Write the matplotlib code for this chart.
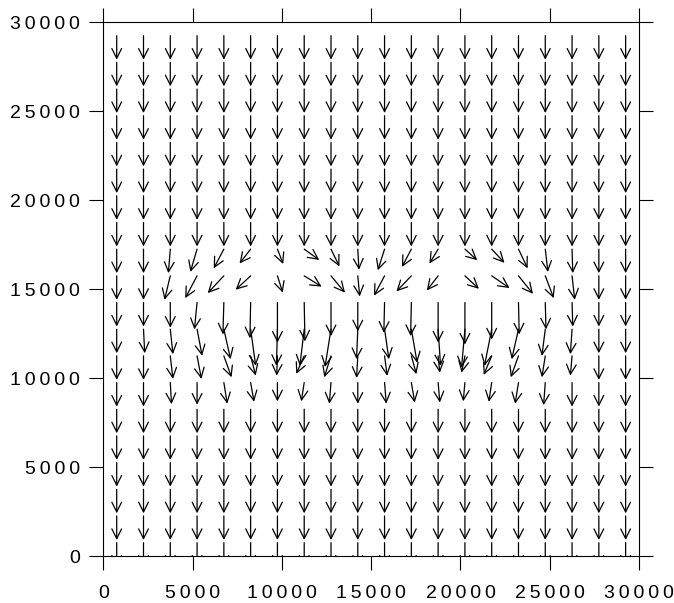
import numpy as np
import matplotlib.pyplot as plt
from matplotlib import font_manager
from matplotlib.patches import FancyArrowPatch

# narrow face if there is one, else Liberation Sans with thin spaces
installed = {f.name for f in font_manager.fontManager.ttflist}
if 'Liberation Sans Narrow' in installed:
    label_font, label_size, digit_gap = 'Liberation Sans Narrow', 16, ' '
else:
    label_font, label_size, digit_gap = 'Liberation Sans', 14, '\u2009'
plt.rcParams['font.family'] = [label_font, 'DejaVu Sans']

# grid nodes (arrow tails), 20 x 20
x_nodes = [750, 2250, 3750, 5250, 6750, 8250, 9750, 11250, 12750, 14250,
           15750, 17250, 18750, 20250, 21750, 23250, 24750, 26250, 27750, 29250]
y_nodes = [29250, 27750, 26250, 24750, 23250, 21750, 20250, 18750, 17250, 15750,
           14250, 12750, 11250, 9750, 8250, 6750, 5250, 3750, 2250, 750]

# undisturbed flow: straight down, unit length
u_free = 0.0
v_free = -1.0

# disturbed rows (key = y of the row)
u_17250 = [0, 0, -0.08, -0.28, -0.42, -0.46, 0.24, 0.62, 0.35, 0.05,
           -0.28, -0.39, -0.36, 0.51, 0.53, 0.38, 0.11, 0.03, 0, 0]
v_17250 = [-1, -1, -1.0, -0.95, -0.80, -0.60, -0.62, -0.45, -0.72, -0.86,
           -0.88, -0.74, -0.60, -0.46, -0.57, -0.80, -0.95, -1.0, -1, -1]

u_15750 = [0, 0, -0.24, -0.49, -0.67, -0.62, 0.22, 0.72, 0.58, 0.08,
           -0.44, -0.62, -0.47, 0.58, 0.74, 0.60, 0.35, 0.11, 0, 0]
v_15750 = [-1, -1, -1.0, -0.93, -0.72, -0.58, -0.70, -0.45, -0.70, -0.86,
           -0.83, -0.65, -0.61, -0.54, -0.51, -0.75, -0.93, -1.0, -1, -1]

u_14250 = [0, 0, 0, -0.11, -0.04, -0.03, 0, 0.03, 0, 0,
           -0.03, -0.03, 0, 0, 0, 0.03, 0.03, 0.03, 0, 0]
v_14250 = [-1, -1, -1.05, -1.12, -1.33, -1.49, -1.67, -1.62, -1.40, -1.20,
           -1.26, -1.40, -1.67, -1.75, -1.54, -1.33, -1.12, -1.0, -1, -1]

u_12750 = [0, 0.05, 0.11, 0.21, 0.28, 0.21, -0.04, -0.18, -0.25, -0.05,
           0.18, 0.24, 0.10, -0.14, -0.30, -0.28, -0.14, -0.07, 0, 0]
v_12750 = [-1, -1, -1.04, -1.11, -1.25, -1.53, -1.53, -1.53, -1.58, -1.25,
           -1.25, -1.40, -1.53, -1.60, -1.53, -1.25, -1.11, -1.04, -1, -1]

u_11250 = [0, 0, 0.11, 0.18, 0.32, 0.21, -0.03, -0.33, -0.28, -0.05,
           0.11, 0.21, 0.07, -0.14, -0.33, -0.32, -0.14, -0.07, 0, 0]
v_11250 = [-1, -1, -0.96, -0.96, -0.89, -0.82, -0.82, -0.75, -0.89, -0.92,
           -0.83, -0.76, -0.70, -0.70, -0.79, -0.89, -0.89, -0.82, -1, -1]

u_9750 = [0, 0, 0.05, 0, 0.14, 0.14, 0, -0.12, -0.07, 0,
          0.07, 0.14, 0.07, -0.07, -0.12, -0.14, -0.07, 0, 0, 0]
v_9750 = [-1, -1, -0.9, -0.92, -0.88, -0.80, -0.78, -0.78, -0.88, -0.88,
          -0.88, -0.83, -0.83, -0.78, -0.80, -0.88, -0.94, -1, -1, -1]

disturbed = {
    17250: (u_17250, v_17250),
    15750: (u_15750, v_15750),
    14250: (u_14250, v_14250),
    12750: (u_12750, v_12750),
    11250: (u_11250, v_11250),
    9750: (u_9750, v_9750),
}

ticks = [0, 5000, 10000, 15000, 20000, 25000, 30000]
tick_labels = [digit_gap.join(str(t)) for t in ticks]

arrow_len = 1350  # data units for a unit vector

fig = plt.figure(figsize=(6.74, 6.03), dpi=100)
ax = fig.add_axes([0.1533, 0.0779, 0.7948, 0.8851])

for yv in y_nodes:
    if yv in disturbed:
        u_row, v_row = disturbed[yv]
    else:
        u_row = [u_free] * len(x_nodes)
        v_row = [v_free] * len(x_nodes)
    for xv, u, v in zip(x_nodes, u_row, v_row):
        arr = FancyArrowPatch((xv, yv), (xv + u * arrow_len, yv + v * arrow_len),
                              arrowstyle='->,head_length=0.7,head_width=0.35',
                              mutation_scale=10, lw=0.9, color='black',
                              shrinkA=0, shrinkB=0)
        ax.add_patch(arr)

ax.set_xlim(0, 30000)
ax.set_ylim(0, 30000)
ax.set_xticks(ticks)
ax.set_xticklabels(tick_labels)
ax.set_yticks(ticks)
ax.set_yticklabels(tick_labels)
ax.tick_params(direction='out', length=10, width=0.8, top=True, right=True,
               labelsize=label_size, colors='black')
ax.tick_params(axis='x', pad=11)
ax.tick_params(axis='y', pad=7)
for s in ax.spines.values():
    s.set_linewidth(0.8)
    s.set_color('black')

fig.savefig('out.png', dpi=100)
